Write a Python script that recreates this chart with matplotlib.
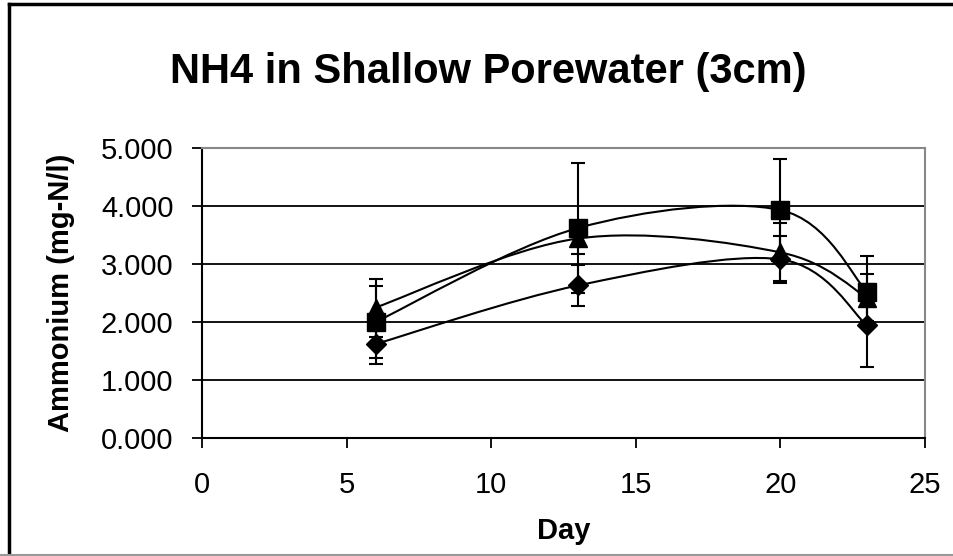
import matplotlib
matplotlib.use("Agg")
import matplotlib.pyplot as plt
from matplotlib.path import Path
from matplotlib.patches import PathPatch
from matplotlib.lines import Line2D
import numpy as np

# values
days = [6, 13, 20, 23]
diamond = [1.62, 2.63, 3.08, 1.94]
diamond_err = [0.34, 0.35, 0.40, 0.72]
square = [2.00, 3.62, 3.93, 2.52]
square_err = [0.62, 1.12, 0.88, 0.62]
triangle = [2.25, 3.44, 3.20, 2.42]
triangle_err = [0.50, 0.27, 0.50, 0.40]

plt.rcParams['font.family'] = ['Liberation Sans', 'DejaVu Sans']


def smooth_path(xs, ys):
    # Excel style smoothed line: cubic bezier, catmull-rom control points
    pts = np.column_stack([xs, ys]).astype(float)
    n = len(pts)
    verts = [pts[0]]
    codes = [Path.MOVETO]
    for i in range(n - 1):
        p0 = pts[i - 1] if i > 0 else pts[i]
        p1 = pts[i]
        p2 = pts[i + 1]
        p3 = pts[i + 2] if i + 2 < n else pts[i + 1]
        c1 = p1 + (p2 - p0) / 6.0
        c2 = p2 - (p3 - p1) / 6.0
        verts += [c1, c2, p2]
        codes += [Path.CURVE4] * 3
    return Path(verts, codes)


fig = plt.figure(figsize=(9.54, 5.56), dpi=100)
ax = fig.add_axes([202 / 954, 1 - 438 / 556, 723 / 954, 290 / 556])

ax.set_xlim(0, 25)
ax.set_ylim(0, 5)
ax.set_yticks([0, 1, 2, 3, 4, 5])
ax.set_yticklabels(["%.3f" % v for v in [0, 1, 2, 3, 4, 5]])
ax.set_xticks([0, 5, 10, 15, 20, 25])

for v in [1, 2, 3, 4]:
    ax.axhline(v, color="black", lw=1.3, zorder=1)

for vals, errs, mk, ms in [(diamond, diamond_err, "D", 10.5),
                           (square, square_err, "s", 13),
                           (triangle, triangle_err, "^", 13)]:
    ax.add_patch(PathPatch(smooth_path(days, vals), fill=False,
                           edgecolor="black", lw=1.5, zorder=3))
    ax.errorbar(days, vals, yerr=errs, fmt=mk, color="black", ms=ms,
                ecolor="black", elinewidth=1.5, capsize=5, capthick=1.5,
                zorder=4)

for s in ["top", "right"]:
    ax.spines[s].set_color("#888888")
    ax.spines[s].set_linewidth(1.5)
for s in ["left", "bottom"]:
    ax.spines[s].set_color("black")
    ax.spines[s].set_linewidth(1.5)

ax.tick_params(axis="both", direction="out", length=7.5, width=1.3,
               labelsize=21, colors="black")
ax.tick_params(axis="y", pad=13)
ax.tick_params(axis="x", pad=16)

fig.text(488 / 954, 1 - 72 / 556, "NH4 in Shallow Porewater (3cm)",
         fontsize=30, fontweight="bold", ha="center", va="center")
ax.set_xlabel("Day", fontsize=21, fontweight="bold", labelpad=13)
ax.set_ylabel("Ammonium (mg-N/l)", fontsize=21, fontweight="bold", labelpad=19)

# chart outline
fig.add_artist(Line2D([9 / 954, 9 / 954], [0, 1 - 4 / 556], color="black",
                      lw=2.5, transform=fig.transFigure))
fig.add_artist(Line2D([9 / 954, 1], [1 - 4 / 556, 1 - 4 / 556], color="black",
                      lw=2.5, transform=fig.transFigure))
fig.add_artist(Line2D([0, 1], [1 / 556, 1 / 556], color="#999999",
                      lw=1.5, transform=fig.transFigure))

fig.savefig("out.png", dpi=100)
